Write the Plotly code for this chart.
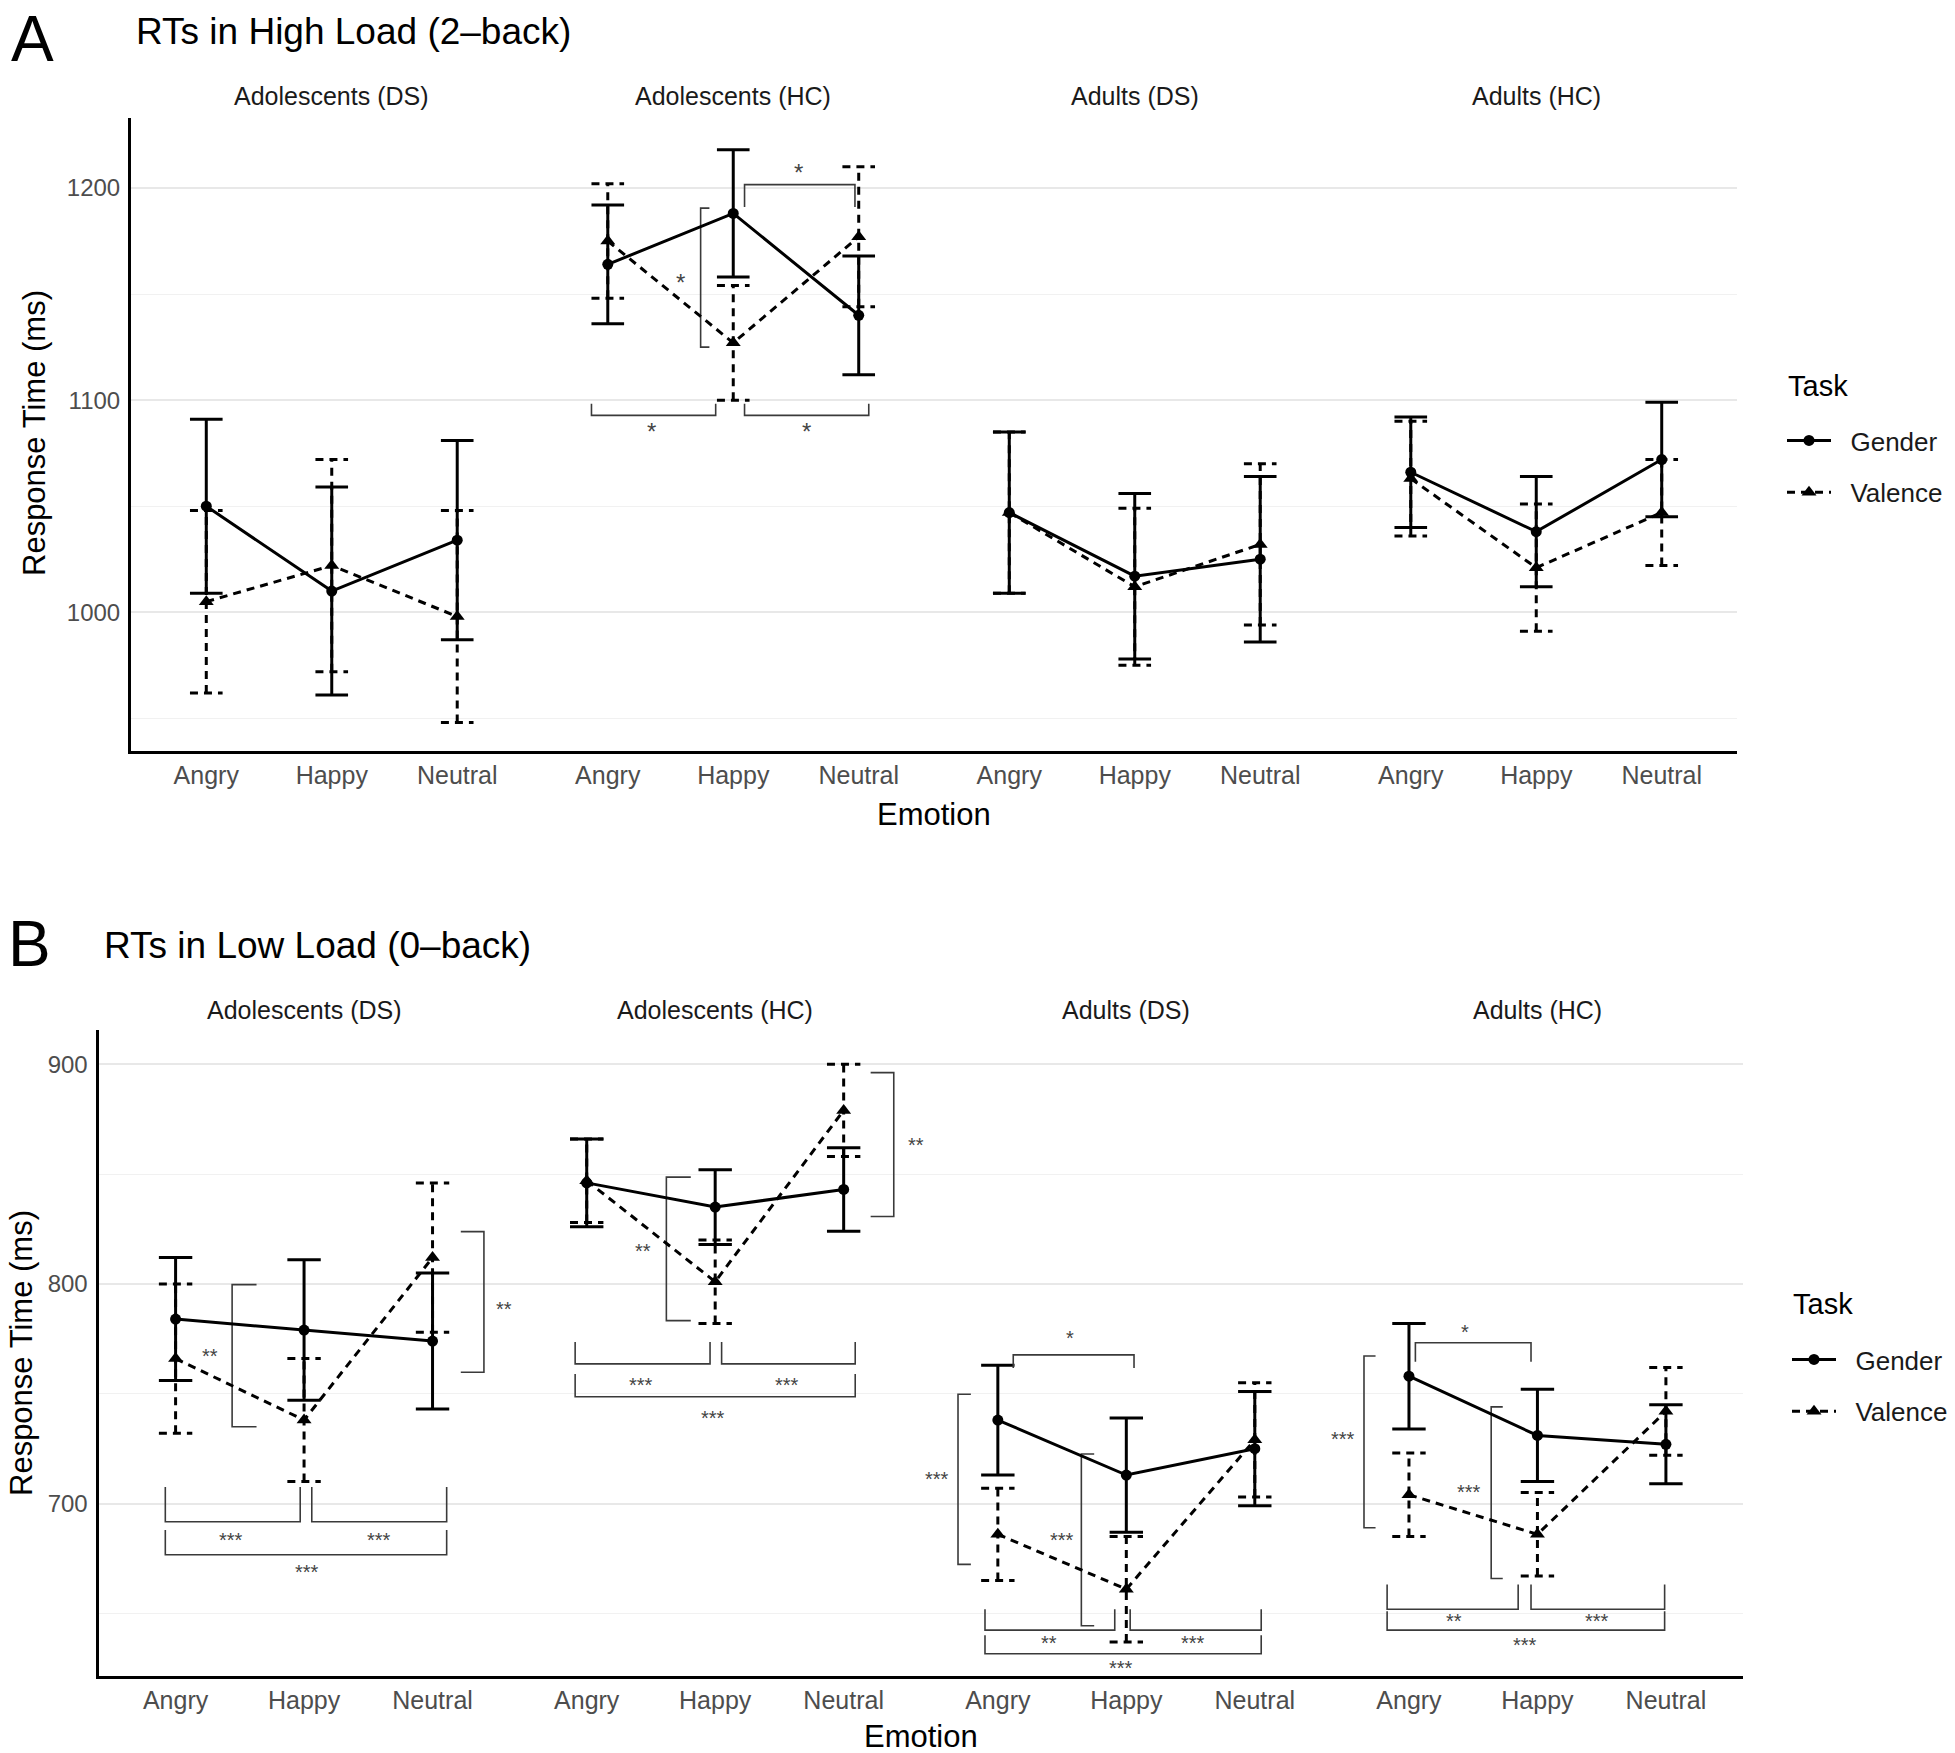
import plotly.graph_objects as go
from plotly.subplots import make_subplots

facets = ["Adolescents (DS)", "Adolescents (HC)", "Adults (DS)", "Adults (HC)"]
emotions = ["Angry", "Happy", "Neutral"]

# high load (2-back): mean RT and SE, one row per facet, emotion order
high_gender_mean = [[1050, 1010, 1034], [1164, 1188, 1140], [1047, 1017, 1025], [1066, 1038, 1072]]
high_gender_se = [[41, 49, 47], [28, 30, 28], [38, 39, 39], [26, 26, 27]]
high_valence_mean = [[1005, 1022, 998], [1175, 1127, 1177], [1047, 1012, 1032], [1063, 1021, 1047]]
high_valence_se = [[43, 50, 50], [27, 27, 33], [38, 37, 38], [27, 30, 25]]

# low load (0-back)
low_gender_mean = [[784, 779, 774], [846, 835, 843], [738, 713, 725], [758, 731, 727]]
low_gender_se = [[28, 32, 31], [20, 17, 19], [25, 26, 26], [24, 21, 18]]
low_valence_mean = [[766, 738, 812], [847, 801, 879], [686, 661, 729], [704, 686, 742]]
low_valence_se = [[34, 28, 34], [19, 19, 21], [21, 24, 26], [19, 19, 20]]

# significance brackets: ("h", facet, x0, x1, y_bar, y_tip) / ("v", facet, x_bar, x_tip, y0, y1)
high_brackets = [
    ("h", 1, 1.09, 1.97, 1201.6, 1191),
    ("v", 1, 0.74, 0.81, 1190.5, 1125),
    ("h", 1, -0.13, 0.86, 1092.8, 1098.3),
    ("h", 1, 1.09, 2.08, 1092.8, 1098.3),
]
high_stars = [(1, 1.52, 1208.7, "*"), (1, 0.58, 1156.7, "*"), (1, 0.35, 1086.5, "*"), (1, 1.58, 1086.5, "*")]

low_brackets = [
    ("v", 0, 0.44, 0.63, 799.7, 735), ("v", 0, 2.40, 2.22, 823.8, 759.8),
    ("h", 0, -0.08, 0.97, 691.7, 707.6), ("h", 0, 1.06, 2.11, 691.7, 707.6),
    ("h", 0, -0.08, 2.11, 676.7, 688),
    ("v", 1, 0.62, 0.81, 848.6, 783.3), ("v", 1, 2.39, 2.21, 896.2, 830.7),
    ("h", 1, -0.09, 0.96, 763.6, 773.6), ("h", 1, 1.05, 2.09, 763.6, 773.6),
    ("h", 1, -0.09, 2.09, 748.6, 759),
    ("h", 2, 0.12, 1.06, 767.7, 761.7), ("v", 2, -0.31, -0.21, 749.8, 672.3),
    ("v", 2, 0.65, 0.75, 722.6, 644.4),
    ("h", 2, -0.10, 0.91, 642.4, 651.9), ("h", 2, 1.03, 2.05, 642.4, 651.9),
    ("h", 2, -0.10, 2.05, 631.6, 640),
    ("h", 3, 0.05, 0.95, 773.2, 764.6), ("v", 3, -0.35, -0.26, 767.2, 689),
    ("v", 3, 0.64, 0.73, 744, 665.9),
    ("h", 3, -0.17, 0.85, 651.9, 663.2), ("h", 3, 0.95, 1.99, 651.9, 663.2),
    ("h", 3, -0.17, 1.99, 642.4, 651),
]
low_stars = [
    (0, 0.27, 768.6, "**"), (0, 2.56, 789.8, "**"), (0, 0.43, 685, "***"), (0, 1.58, 685, "***"), (0, 1.02, 670, "***"),
    (1, 0.44, 816.4, "**"), (1, 2.56, 864.5, "**"), (1, 0.42, 755.3, "***"), (1, 1.56, 755.3, "***"), (1, 0.98, 740.3, "***"),
    (2, 0.56, 776.7, "*"), (2, -0.47, 712.7, "***"), (2, 0.50, 685, "***"), (2, 0.40, 637.9, "**"), (2, 1.52, 637.9, "***"), (2, 0.96, 626.3, "***"),
    (3, 0.44, 779.7, "*"), (3, -0.51, 730.8, "***"), (3, 0.47, 706.8, "***"), (3, 0.35, 648.1, "**"), (3, 1.46, 648.1, "***"), (3, 0.90, 636.8, "***"),
]

W, H = 1955, 1753
FONT = "Liberation Sans"
CAP = 0.13
NB = "\u00a0\u00a0"


def px(x):
    return x / W


def py(y):
    return 1 - y / H


def errbar_xy(means, ses):
    xs, ys = [], []
    for i, (m, s) in enumerate(zip(means, ses)):
        lo, hi = m - s, m + s
        xs += [i, i, None, i - CAP, i + CAP, None, i - CAP, i + CAP, None]
        ys += [lo, hi, None, hi, hi, None, lo, lo, None]
    return xs, ys


def bracket_xy(items, facet):
    xs, ys = [], []
    for b in items:
        if b[1] != facet:
            continue
        if b[0] == "h":
            _, _, x0, x1, yb, yt = b
            xs += [x0, x0, x1, x1, None]
            ys += [yt, yb, yb, yt, None]
        else:
            _, _, xb, xt, y0, y1 = b
            xs += [xt, xb, xb, xt, None]
            ys += [y0, y0, y1, y1, None]
    return xs, ys


fig = make_subplots(rows=2, cols=4)

panels = [
    dict(row=1, gm=high_gender_mean, gs=high_gender_se, vm=high_valence_mean, vs=high_valence_se,
         br=high_brackets, st=high_stars, legend="legend", x0=131, x1=1737, ytop=118, ybot=751,
         yr=[934.6, 1233], star_size=24, strip_y=96),
    dict(row=2, gm=low_gender_mean, gs=low_gender_se, vm=low_valence_mean, vs=low_valence_se,
         br=low_brackets, st=low_stars, legend="legend2", x0=98.5, x1=1743, ytop=1030, ybot=1676,
         yr=[621.5, 915.6], star_size=20, strip_y=1010),
]

xi = list(range(len(emotions)))
for p in panels:
    r = p["row"]
    fw = (p["x1"] - p["x0"]) / 4
    for f in range(4):
        c = f + 1
        n = (r - 1) * 4 + c
        # error bars
        ex, ey = errbar_xy(p["gm"][f], p["gs"][f])
        fig.add_trace(go.Scatter(x=ex, y=ey, mode="lines", line=dict(color="black", width=3),
                                 showlegend=False, hoverinfo="skip"), row=r, col=c)
        ex, ey = errbar_xy(p["vm"][f], p["vs"][f])
        fig.add_trace(go.Scatter(x=ex, y=ey, mode="lines", line=dict(color="black", width=3, dash="8px,6px"),
                                 showlegend=False, hoverinfo="skip"), row=r, col=c)
        # brackets
        bx, by = bracket_xy(p["br"], f)
        if bx:
            fig.add_trace(go.Scatter(x=bx, y=by, mode="lines", line=dict(color="#3a3a3a", width=1.6),
                                     showlegend=False, hoverinfo="skip"), row=r, col=c)
        # means
        fig.add_trace(go.Scatter(x=xi, y=p["vm"][f], mode="lines+markers", name=NB + "Valence",
                                 line=dict(color="black", width=3, dash="8px,6px"),
                                 marker=dict(symbol="triangle-up", size=13, color="black"),
                                 legend=p["legend"], legendgroup="v%d" % r, showlegend=(f == 0),
                                 legendrank=2), row=r, col=c)
        fig.add_trace(go.Scatter(x=xi, y=p["gm"][f], mode="lines+markers", name=NB + "Gender",
                                 line=dict(color="black", width=3),
                                 marker=dict(symbol="circle", size=11, color="black"),
                                 legend=p["legend"], legendgroup="g%d" % r, showlegend=(f == 0),
                                 legendrank=1), row=r, col=c)
        # axes
        xa = "xaxis" if n == 1 else "xaxis%d" % n
        ya = "yaxis" if n == 1 else "yaxis%d" % n
        fig.update_layout({
            xa: dict(domain=[px(p["x0"] + f * fw), px(p["x0"] + (f + 1) * fw)], range=[-0.6, 2.6],
                     tickvals=xi, ticktext=emotions, showgrid=False, zeroline=False,
                     showline=True, linecolor="black", linewidth=3,
                     tickfont=dict(size=25, color="#4d4d4d", family=FONT)),
            ya: dict(domain=[py(p["ybot"]), py(p["ytop"])], range=p["yr"], dtick=100,
                     showgrid=True, gridcolor="#e8e8e8", gridwidth=1.5, zeroline=False,
                     minor=dict(dtick=50, showgrid=True, gridcolor="#f1f1f1", gridwidth=1.3),
                     showline=(f == 0), linecolor="black", linewidth=3, ticklabelstandoff=3,
                     showticklabels=(f == 0), tickfont=dict(size=24, color="#4d4d4d", family=FONT)),
        })
        # stars
        for s in p["st"]:
            if s[0] == f:
                fig.add_annotation(x=s[1], y=s[2], text=s[3], showarrow=False, xref="x%d" % n if n > 1 else "x",
                                   yref="y%d" % n if n > 1 else "y", yshift=-3,
                                   font=dict(size=p["star_size"], color="#444", family=FONT))
        # strip label
        fig.add_annotation(x=px(p["x0"] + (f + 0.5) * fw), y=py(p["strip_y"]),
                           xref="paper", yref="paper", text=facets[f], showarrow=False,
                           xanchor="center", yanchor="middle",
                           font=dict(size=25, color="#1a1a1a", family=FONT))

# titles, panel letters, axis titles, legend titles (pixel positions)
texts = [
    ("A", 9, 39, 64, "left", 0),
    ("RTs in High Load (2–back)", 134, 32, 37, "left", 0),
    ("B", 6, 944, 64, "left", 0),
    ("RTs in Low Load (0–back)", 102, 945, 37, "left", 0),
    ("Emotion", 934, 814, 31, "center", 0),
    ("Emotion", 921, 1736, 31, "center", 0),
    ("Response Time (ms)", 34, 433, 31, "center", -90),
    ("Response Time (ms)", 21, 1353, 31, "center", -90),
    ("Task", 1786, 386, 29, "left", 0),
    ("Task", 1791, 1304, 29, "left", 0),
]
for t, x, y, size, anchor, ang in texts:
    fig.add_annotation(x=px(x), y=py(y), xref="paper", yref="paper", text=t, showarrow=False,
                       xanchor=anchor, yanchor="middle", textangle=ang,
                       font=dict(size=size, color="black", family=FONT))

leg = dict(xanchor="left", yanchor="top", font=dict(size=26, color="#1a1a1a", family=FONT),
           tracegroupgap=15, itemwidth=44, bgcolor="rgba(0,0,0,0)")
fig.update_layout(
    width=W, height=H, margin=dict(l=0, r=0, t=0, b=0),
    paper_bgcolor="white", plot_bgcolor="white",
    font=dict(family=FONT),
    legend=dict(leg, x=px(1782), y=py(417)),
    legend2=dict(leg, x=px(1787), y=py(1336)),
)

fig.write_html("out.html", config={"displayModeBar": False},
               post_script="document.body.style.margin = '0';")
